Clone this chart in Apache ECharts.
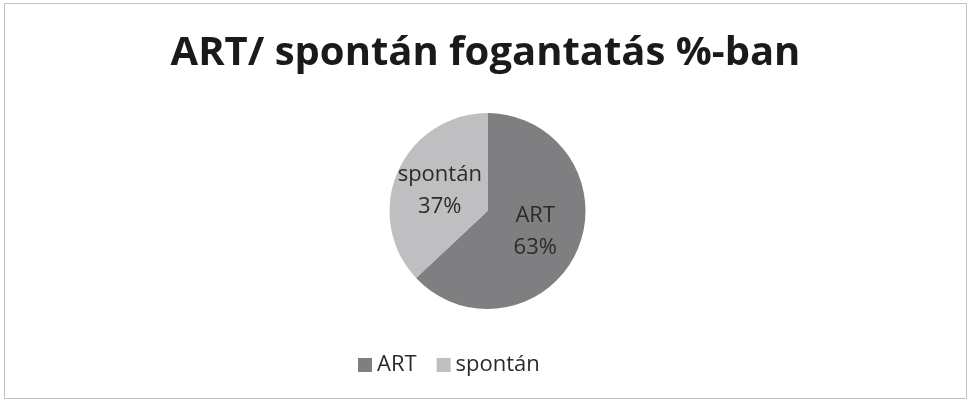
<!DOCTYPE html>
<html lang="hu">
<head>
    <meta charset="UTF-8">
    <title>ART/ spontán fogantatás %-ban</title>
    <script src="https://cdn.jsdelivr.net/npm/echarts@6/dist/echarts.min.js"></script>
    <style>
        html, body { margin: 0; padding: 0; background: #fff; }
        #chart { width: 971px; height: 403px; }
    </style>
</head>
<body>
    <div id="chart"></div>
    <script>
        // data
        var categories = ['ART', 'spontán'];
        var values = [63, 37];
        var colors = ['#7f7f81', '#bfbfc2'];

        var chart = echarts.init(document.getElementById('chart'));

        var pieData = categories.map(function (name, i) {
            return { name: name, value: values[i], itemStyle: { color: colors[i] } };
        });

        var option = {
            backgroundColor: '#fff',
            textStyle: { fontFamily: 'Open Sans' },
            title: {
                text: 'ART/ spontán fogantatás %-ban',
                left: 'center',
                top: 29,
                textStyle: {
                    fontFamily: 'Open Sans',
                    fontSize: 40,
                    fontWeight: 'bold',
                    color: '#1a1a1a'
                }
            },
            legend: {
                data: categories,
                left: 353,
                top: 349,
                itemWidth: 14,
                itemHeight: 14,
                itemGap: 20,
                icon: 'rect',
                textStyle: { fontSize: 22, color: '#2b2b2b', fontFamily: 'Open Sans' }
            },
            graphic: [{
                type: 'rect',
                shape: { x: 4.5, y: 3.5, width: 962, height: 395 },
                style: { fill: 'none', stroke: '#c0c0c0', lineWidth: 1 },
                silent: true
            }],
            series: [{
                type: 'pie',
                center: [487.5, 211],
                radius: 98,
                startAngle: 90,
                clockwise: true,
                data: pieData,
                label: {
                    show: true,
                    position: 'inside',
                    formatter: function (p) { return p.name + '\n' + Math.round(p.percent) + '%'; },
                    fontSize: 22,
                    lineHeight: 32,
                    color: '#2b2b2b',
                    fontFamily: 'Open Sans'
                },
                labelLine: { show: false },
                emphasis: { disabled: true },
                animation: false
            }]
        };

        chart.setOption(option);
    </script>
</body>
</html>
